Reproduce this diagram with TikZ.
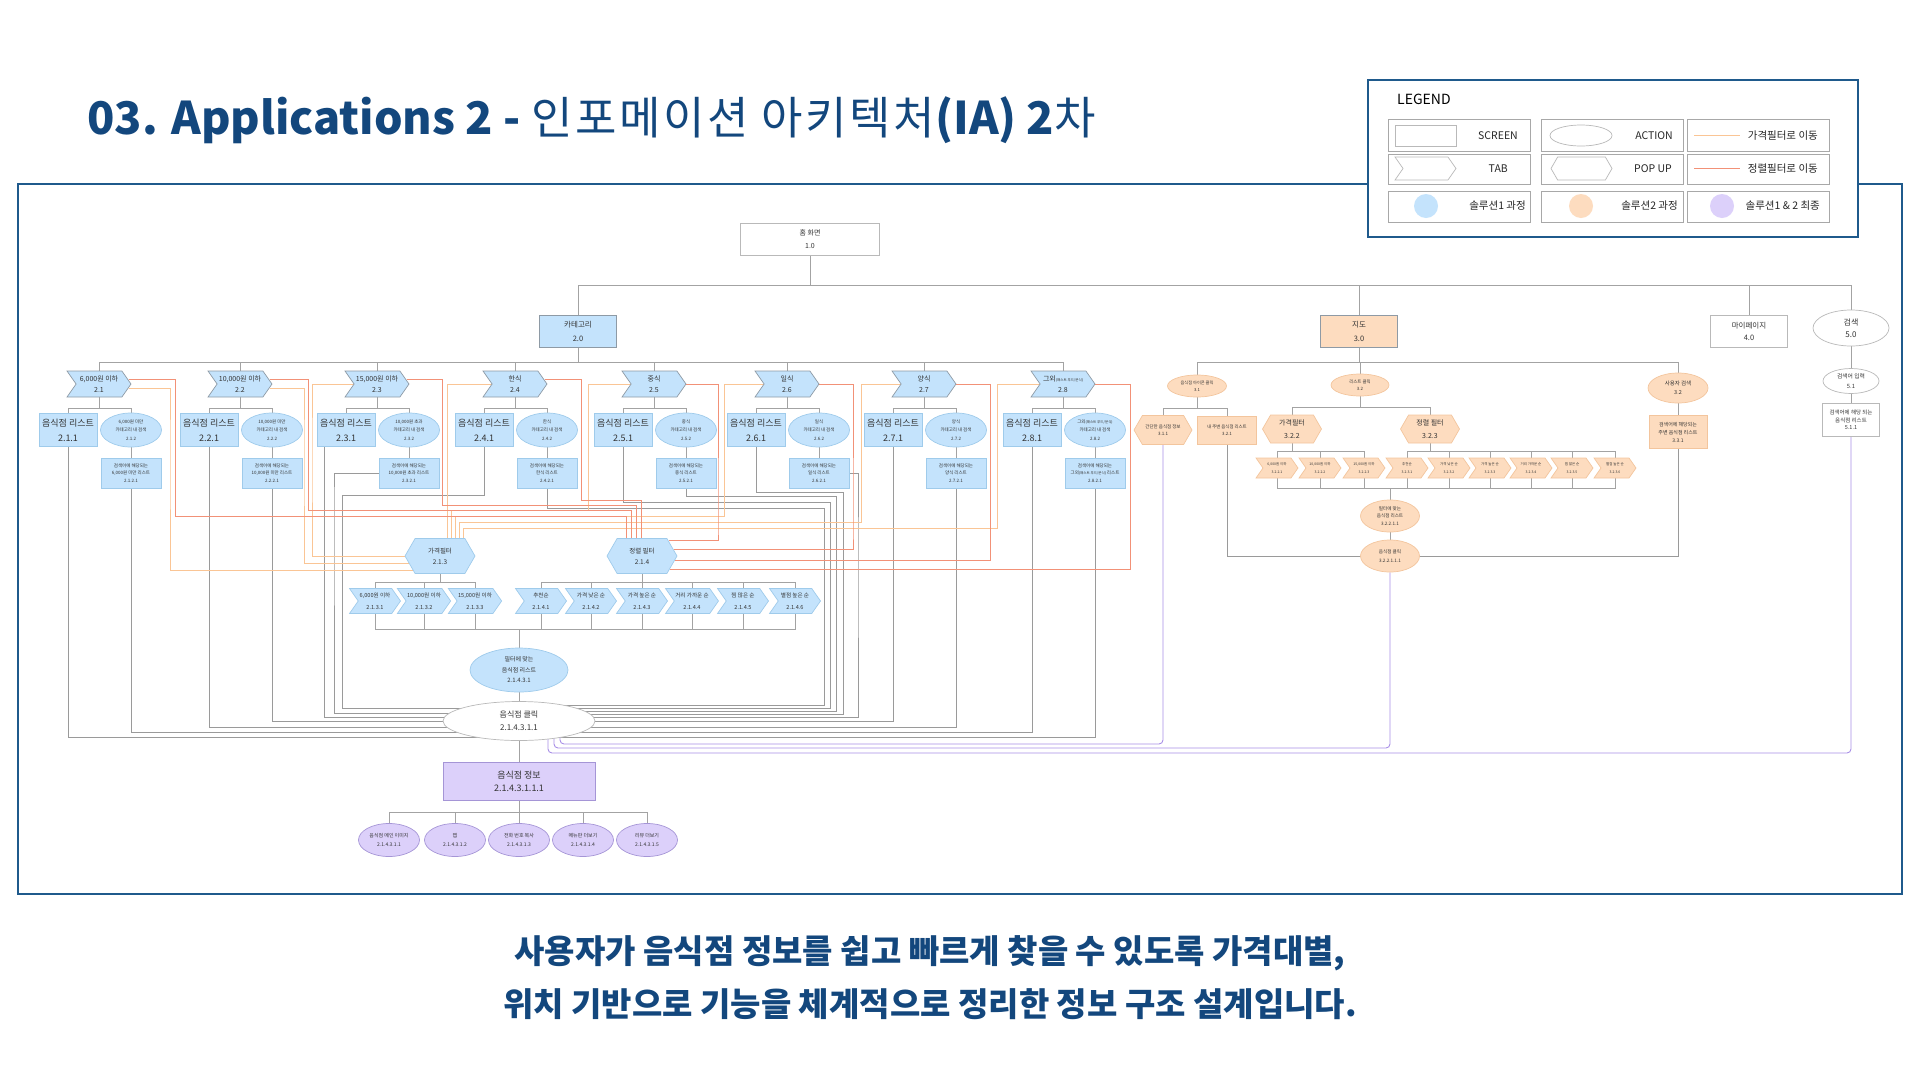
\documentclass[tikz,border=0pt]{standalone}
\usepackage{fontspec}
\setmainfont{Noto Sans CJK KR}
\usetikzlibrary{positioning,shapes.geometric,shapes.symbols,calc,backgrounds}
\definecolor{titleC}{HTML}{13477D}
\definecolor{frameC}{HTML}{1F5A8C}
\definecolor{txtC}{HTML}{333333}
\definecolor{lineC}{HTML}{A3A3A3}
\definecolor{loopC}{HTML}{9A9A9A}
\definecolor{priceC}{HTML}{FAC595}
\definecolor{sortC}{HTML}{F29177}
\definecolor{purpC}{HTML}{A88FE6}
\definecolor{blueF}{HTML}{C4E3FC}
\definecolor{blueD}{HTML}{9FCBEB}
\definecolor{tabD}{HTML}{8E9AA5}
\definecolor{peachF}{HTML}{FDDCBF}
\definecolor{peachD}{HTML}{F3C59D}
\definecolor{purpF}{HTML}{DCD0FA}
\definecolor{purpD}{HTML}{A595D6}
\definecolor{cellC}{HTML}{A8A8A8}
\newcommand{\sz}[2]{\fontsize{#1}{#2}\selectfont}
\newcommand{\gwlab}{그외{\sz{3.5}{5}(패스트 푸드/분식)}}
\newcommand{\kospace}{\addfontfeature{LetterSpace=6}}

\begin{document}
\begin{tikzpicture}[x=1pt, y=-1pt,
  tline/.style={draw=lineC, line width=0.9pt},
  gline/.style={draw=loopC, line width=0.9pt},
  oline/.style={draw=priceC, line width=0.9pt},
  rline/.style={draw=sortC, line width=0.9pt},
  pline/.style={draw=purpC, line width=0.9pt, rounded corners=4pt},
  base/.style={align=center, inner sep=1pt, text=txtC, line width=0.7pt},
  scr/.style={base, rectangle, draw=gray!55, fill=white},
  act/.style={base, ellipse, draw=gray!55, fill=white, inner sep=0pt},
  tabs/.style={base, signal, signal to=east, signal from=west, signal pointer angle=110, draw=gray!55, fill=white},
  pop/.style={base, signal, signal to=west and east, signal pointer angle=120, draw=gray!55, fill=white},
  blu/.style={fill=blueF, draw=blueD},
  pch/.style={fill=peachF, draw=peachD},
  prp/.style={fill=purpF, draw=purpD},
  lgtxt/.style={anchor=east, inner sep=0pt, text=black!85, font=\sz{10.5}{12}}
]
\useasboundingbox (0,0) rectangle (1920,1080);

% title and caption
\node[anchor=base west, inner sep=0pt, text=titleC, font=\sz{45}{52}] (title) at (87,134)
  {\bfseries 03. Applications 2 - {\mdseries\kospace 인포메이션 아키텍처}(IA) 2{\mdseries 차}};
\node[text=titleC, font=\sz{33}{53}\bfseries, align=center] (cap) at (930,978)
  {사용자가 음식점 정보를 쉽고 빠르게 찾을 수 있도록 가격대별,\\위치 기반으로 기능을 체계적으로 정리한 정보 구조 설계입니다.};

% frame
\draw[frameC, line width=2pt] (18,184) rectangle (1902,894);

% legend
\draw[frameC, line width=1.6pt, fill=white] (1368,80) rectangle (1858,237);
\node[anchor=west, inner sep=0pt, font=\sz{14}{16}] (lgt) at (1397,99) {LEGEND};
\foreach \x in {1388,1541,1687}
  \foreach \y/\h in {119/32,154/30,191/31}
    \draw[cellC, line width=0.8pt] (\x,\y) rectangle ++(142,\h);
\node[scr, minimum width=61pt, minimum height=21pt] (lgscr) at (1425.5,135.5) {};
\node[lgtxt] (lgscrt) at (1518,135.5) {SCREEN};
\node[act, minimum width=62pt, minimum height=21pt] (lgact) at (1581,135.5) {};
\node[lgtxt] (lgactt) at (1673,135.5) {ACTION};
\draw[oline] (1694,135.5) -- (1740,135.5);
\node[lgtxt] (lgprt) at (1818,135.5) {가격필터로 이동};
\node[tabs, minimum width=61pt, minimum height=23pt] (lgtab) at (1425.5,168.5) {};
\node[lgtxt] (lgtabt) at (1508,168.5) {TAB};
\node[pop, minimum width=61pt, minimum height=23pt] (lgpop) at (1581.5,168.5) {};
\node[lgtxt] (lgpopt) at (1672,168.5) {POP UP};
\draw[rline] (1694,168.5) -- (1740,168.5);
\node[lgtxt] (lgsrt) at (1818,168.5) {정렬필터로 이동};
\node[circle, fill=blueF, minimum size=24pt, inner sep=0pt] (lgc1) at (1426,206) {};
\node[lgtxt] (lgc1t) at (1526,206) {솔루션1 과정};
\node[circle, fill=peachF, minimum size=24pt, inner sep=0pt] (lgc2) at (1581,206) {};
\node[lgtxt] (lgc2t) at (1678,206) {솔루션2 과정};
\node[circle, fill=purpF, minimum size=24pt, inner sep=0pt] (lgc3) at (1722,206) {};
\node[lgtxt] (lgc3t) at (1820,206) {솔루션1 \& 2 최종};

% top level
\node[scr, minimum width=139pt, minimum height=32pt, font=\sz{7}{12.5}] (root) at (810,239) {홈 화면\\1.0};
\node[scr, blu, draw=tabD, minimum width=77pt, minimum height=32pt, font=\sz{7.5}{14}] (cat) at (578,331) {카테고리\\2.0};
\node[scr, pch, draw=tabD, minimum width=77pt, minimum height=32pt, font=\sz{7.5}{14}] (map) at (1359,331) {지도\\3.0};
\node[scr, minimum width=77pt, minimum height=32pt, font=\sz{7.5}{12}] (myp) at (1749,331) {마이페이지\\4.0};
\node[act, minimum width=76pt, minimum height=36pt, font=\sz{8}{12.5}] (s50) at (1851,328) {검색\\5.0};

% category groups
\foreach \i/\x/\tn/\cn in {1/99/{6,000원 이하}/{6,000원 미만},2/240/{10,000원 이하}/{10,000원 미만},
    3/377/{15,000원 이하}/{10,000원 초과},4/515/한식/한식,5/654/중식/중식,6/787/일식/일식,
    7/924/양식/양식,8/1063/\gwlab/\gwlab}{
  \node[tabs, blu, draw=tabD, minimum width=64pt, minimum height=26pt, font=\sz{7}{11}] (tab\i) at (\x,384) {\tn\\2.\i};
  \node[scr, blu, minimum width=58pt, minimum height=33pt, font=\sz{9}{15}] (lst\i) at (\x-31,430) {음식점 리스트\\2.\i.1};
  \node[act, blu, minimum width=61pt, minimum height=34pt, font=\sz{4.5}{8.5}] (srch\i) at (\x+32,430) {\cn\\카테고리 내 검색\\2.\i.2};
  \node[scr, blu, minimum width=60pt, minimum height=30pt, font=\sz{4.5}{7.3}] (res\i) at (\x+32,473) {검색어에 해당되는\\\cn{} 리스트\\2.\i.2.1};
}

% filters
\node[pop, blu, minimum width=70pt, minimum height=35pt, font=\sz{6.5}{10.7}] (pf) at (440,556) {가격필터\\2.1.3};
\node[pop, blu, minimum width=70pt, minimum height=35pt, font=\sz{6.5}{10.7}] (sf) at (642,556) {정렬 필터\\2.1.4};
\foreach \j/\x/\t in {1/375/{6,000원 이하},2/424/{10,000원 이하},3/475/{15,000원 이하}}
  \node[tabs, blu, minimum width=51pt, minimum height=25pt, font=\sz{5.6}{11.5}] (pt\j) at (\x,601) {\t\\2.1.3.\j};
\foreach \j/\x/\t in {1/541/추천순,2/591/가격 낮은 순,3/642/가격 높은 순,4/692/거리 가까운 순,5/743/찜 많은 순,6/795/별점 높은 순}
  \node[tabs, blu, minimum width=51pt, minimum height=25pt, font=\sz{5.6}{11.5}] (st\j) at (\x,601) {\t\\2.1.4.\j};
\node[act, blu, minimum width=98pt, minimum height=44pt, font=\sz{6}{10.5}] (fl) at (519,670) {필터에 맞는\\음식점 리스트\\2.1.4.3.1};
\node[act, minimum width=152pt, minimum height=39pt, font=\sz{8}{13.3}] (clk) at (519,721) {음식점 클릭\\2.1.4.3.1.1};
\node[scr, prp, minimum width=152pt, minimum height=38pt, font=\sz{9}{13.3}] (info) at (519,781) {음식점 정보\\2.1.4.3.1.1.1};
\foreach \j/\x/\t in {1/389/음식점 메인 이미지,2/455/맵,3/519/전화 번호 복사,4/583/메뉴판 더보기,5/647/리뷰 더보기}
  \node[act, prp, minimum width=61pt, minimum height=33pt, font=\sz{5}{8.3}] (pi\j) at (\x,840) {\t\\2.1.4.3.1.\j};

% map
\node[act, pch, minimum width=59pt, minimum height=22pt, font=\sz{4.2}{7.3}] (m31) at (1197,386) {음식점 아이콘 클릭\\3.1};
\node[act, pch, minimum width=58pt, minimum height=22pt, font=\sz{4.4}{7.3}] (m32) at (1360,385) {리스트 클릭\\3.2};
\node[act, pch, minimum width=60pt, minimum height=30pt, font=\sz{5.5}{9}] (m33) at (1678,388) {사용자 검색\\3.2};
\node[pop, pch, minimum width=58pt, minimum height=29pt, font=\sz{4.5}{7.3}] (m311) at (1163,430) {간단한 음식점 정보\\3.1.1};
\node[scr, pch, minimum width=59pt, minimum height=28pt, font=\sz{4.4}{7.3}] (m321) at (1227,430) {내 주변 음식점 리스트\\3.2.1};
\node[pop, pch, minimum width=59pt, minimum height=28pt, font=\sz{7}{12.7}] (m322) at (1292,429) {가격필터\\3.2.2};
\node[pop, pch, minimum width=59pt, minimum height=28pt, font=\sz{7}{12.7}] (m323) at (1430,429) {정렬 필터\\3.2.3};
\foreach \j/\x/\t/\n in {1/1277/{6,000원 이하}/3.2.2.1,2/1320/{10,000원 이하}/3.2.2.2,3/1364/{15,000원 이하}/3.2.2.3,
    4/1407/추천순/3.2.3.1,5/1449/가격 낮은 순/3.2.3.2,6/1490/가격 높은 순/3.2.3.3,
    7/1531/거리 가까운 순/3.2.3.4,8/1572/찜 많은 순/3.2.3.5,9/1615/별점 높은 순/3.2.3.6}
  \node[tabs, pch, minimum width=42pt, minimum height=20pt, font=\sz{3.5}{7.3}] (mt\j) at (\x,468) {\t\\\n};
\node[act, pch, minimum width=59pt, minimum height=32pt, font=\sz{4.6}{7.5}] (mfl) at (1390,516) {필터에 맞는\\음식점 리스트\\3.2.2.1.1};
\node[act, pch, minimum width=59pt, minimum height=32pt, font=\sz{4.6}{9}] (mclk) at (1390,556) {음식점 클릭\\3.2.2.1.1.1};
\node[scr, pch, minimum width=58pt, minimum height=33pt, font=\sz{5}{8}] (m331) at (1678,432) {검색어에 해당되는\\주변 음식점 리스트\\3.3.1};

% search
\node[act, minimum width=56pt, minimum height=25pt, font=\sz{5.8}{10.5}] (s51) at (1851,381) {검색어 입력\\5.1};
\node[scr, minimum width=57pt, minimum height=33pt, font=\sz{5.5}{7.5}] (s511) at (1851,420) {검색어에 해당 되는\\음식점 리스트\\5.1.1};

\begin{scope}[on background layer]
% tree
\draw[tline] (root.south) -- ++(0,30) coordinate (rb);
\draw[tline] (cat.north |- rb) -- (s50.north |- rb);
\foreach \n in {cat,map,myp,s50} \draw[tline] (\n.north) -- (\n.north |- rb);
\draw[tline] (cat.south) -- ++(0,15) coordinate (cb);
\draw[tline] (tab1.north |- cb) -- (tab8.north |- cb);
\foreach \i in {1,...,8} {
  \draw[tline] (tab\i.north) -- (tab\i.north |- cb);
  \draw[tline] (tab\i.south) -- ++(0,11);
  \draw[tline] (lst\i.north) |- ($(tab\i.south)+(0,11)$) -| (srch\i.north);
  \draw[tline] (srch\i) -- (res\i);
}
% lists to restaurant click
\draw[gline] (lst1.south) |- ($(clk.center)+(0,16)$);
\draw[gline] (res1.south) |- ($(clk.center)+(0,11)$);
\draw[gline] (lst2.south) |- ($(clk.center)+(0,6)$);
\draw[gline] (res2.south) |- (clk.center);
\draw[gline] ($(lst3.south)+(-22,0)$) |- ($(clk.center)+(0,-4)$);
\draw[gline] (res3.west) -| (334,500) |- ($(clk.center)+(0,-8)$);
\draw[gline] (lst4.south) |- (342,495) |- ($(clk.center)+(0,-13)$);
\draw[gline] (res4.south) |- (824,508) |- ($(clk.center)+(0,-16)$);
\draw[gline] (lst5.south) |- (830,502) |- ($(clk.center)+(0,-13)$);
\draw[gline] (res5.south) |- (836,496) |- ($(clk.center)+(0,-10)$);
\draw[gline] (lst6.south) |- (843,492) |- ($(clk.center)+(0,-7)$);
\draw[gline] (res6.east) -| (858,560) |- ($(clk.center)+(0,-4)$);
\draw[gline] (lst7.south) |- (clk.center);
\draw[gline] (res7.south) |- ($(clk.center)+(0,6)$);
\draw[gline] (lst8.south) |- ($(clk.center)+(0,11)$);
\draw[gline] (res8.south) |- ($(clk.center)+(0,16)$);
% to price filter
\draw[oline] (tab1.-8) -| (170,450) |- (pf.208);
\draw[oline] (tab2.-8) -| (304,450) |- (pf.194);
\draw[oline] (tab3.west) -| (312,450) |- (pf.180);
\draw[oline] (tab4.west) -| ($(pf.north)+(7,0)$);
\draw[oline] (tab5.west) -| (588,510) -| ($(pf.north)+(11,0)$);
\draw[oline] (tab6.west) -| (724,516) -| ($(pf.north)+(15,0)$);
\draw[oline] (tab7.west) -| (861,522) -| ($(pf.north)+(19,0)$);
\draw[oline] (tab8.west) -| (997,528) -| ($(pf.north)+(23,0)$);
% to sort filter
\draw[rline] (tab1.8) -| (175,516) -| ($(sf.north)+(-16,0)$);
\draw[rline] (tab2.8) -| (308,510) -| ($(sf.north)+(-11,0)$);
\draw[rline] (tab3.8) -| (442,505) -| ($(sf.north)+(-6,0)$);
\draw[rline] (tab4.8) -| (581,500) -| ($(sf.north)+(-1,0)$);
\draw[rline] (tab5.east) -| (718,530) |- (sf.30);
\draw[rline] (tab6.east) -| (853,530) |- (sf.12);
\draw[rline] (tab7.east) -| (990,530) |- (sf.-8);
\draw[rline] (tab8.east) -| (1130,530) |- (sf.-26);
% filter tabs
\coordinate (pbar) at ($(pf.south)+(0,9)$);
\draw[tline] (pf.south) -- (pbar);
\draw[tline] (pt1.north) |- (pbar) -| (pt3.north);
\draw[tline] (pt2.north) -- (pt2.north |- pbar);
\coordinate (sbar) at ($(sf.south)+(0,9)$);
\draw[tline] (sf.south) -- (sbar);
\draw[tline] (st1.north) |- (sbar) -| (st6.north);
\foreach \j in {2,...,5} \draw[tline] (st\j.north) -- (st\j.north |- sbar);
\coordinate (fbar) at ($(pt1.south)+(0,16)$);
\draw[tline] (pt1.south) -- (fbar) -- (st6.south |- fbar) -- (st6.south);
\foreach \j in {2,3} \draw[tline] (pt\j.south) -- (pt\j.south |- fbar);
\foreach \j in {1,...,5} \draw[tline] (st\j.south) -- (st\j.south |- fbar);
\draw[tline] (fl.north) -- (fl.north |- fbar);
\draw[tline] (fl) -- (clk);
\draw[tline] (clk) -- (info);
\draw[tline] (info.south) -- ++(0,12) coordinate (ibar);
\draw[tline] (pi1.north) |- (ibar) -| (pi5.north);
\foreach \j in {2,3,4} \draw[tline] (pi\j.north) -- (pi\j.north |- ibar);
% map
\draw[tline] (map.south) -- ++(0,15) coordinate (mb);
\draw[tline] (m31.north |- mb) -- (m33.north |- mb);
\foreach \n in {m31,m32,m33} \draw[tline] (\n.north) -- (\n.north |- mb);
\draw[tline] (m31.south) -- ++(0,11);
\draw[tline] (m311.north) |- ($(m31.south)+(0,11)$) -| (m321.north);
\draw[tline] (m32.south) -- ++(0,11);
\draw[tline] (m322.north) |- ($(m32.south)+(0,11)$) -| (m323.north);
\draw[tline] (m322.south) -- ++(0,8) coordinate (pbus);
\draw[tline] (mt1.north) |- (pbus) -| (mt3.north);
\draw[tline] (mt2.north) -- (mt2.north |- pbus);
\draw[tline] (m323.south) -- ++(0,8) coordinate (sbus);
\draw[tline] (mt4.north) |- (sbus) -| (mt9.north);
\foreach \j in {5,...,8} \draw[tline] (mt\j.north) -- (mt\j.north |- sbus);
\coordinate (mbb) at ($(mt1.south)+(0,10)$);
\draw[tline] (mt1.south) -- (mbb) -- (mt9.south |- mbb) -- (mt9.south);
\foreach \j in {2,...,8} \draw[tline] (mt\j.south) -- (mt\j.south |- mbb);
\draw[tline] (mfl.north) -- (mfl.north |- mbb);
\draw[tline] (mfl) -- (mclk);
\draw[tline] (m33) -- (m331);
\draw[gline] (m321.south) |- (mclk.center);
\draw[gline] (m331.south) |- (mclk.center);
% search
\draw[tline] (s50) -- (s51);
\draw[tline] (s51) -- (s511);
% final solution paths
\draw[pline] (m311.south) |- (560,744) |- (clk.center);
\draw[pline] (mclk.south) |- (554,748) |- (clk.center);
\draw[pline] (s511.south) |- (548,753) |- (clk.center);
\end{scope}
\end{tikzpicture}
\end{document}
